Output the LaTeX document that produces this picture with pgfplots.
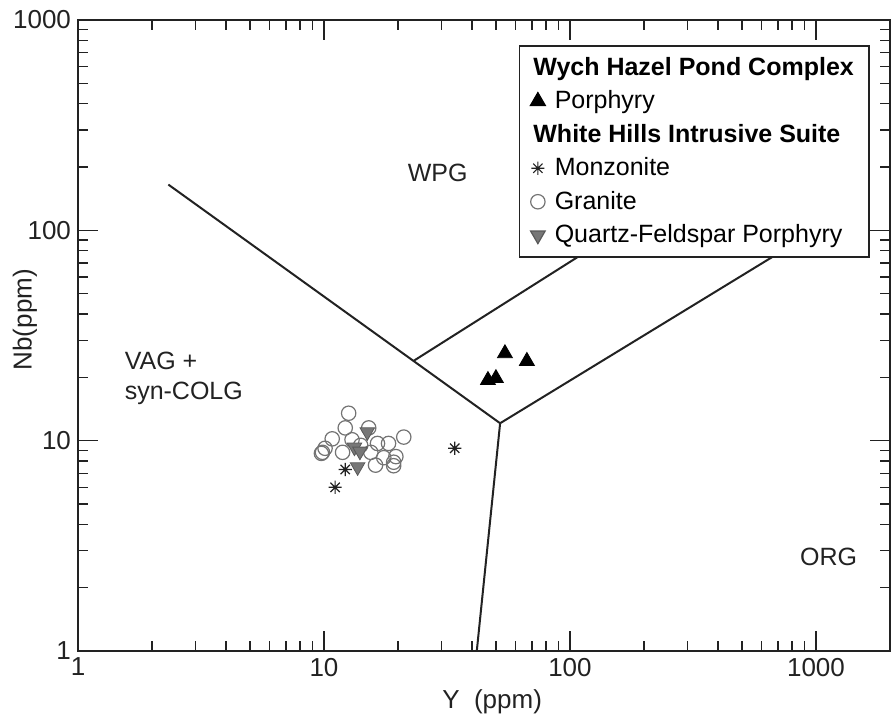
\documentclass[border=0pt]{standalone}
\usepackage{pgfplots}
\pgfplotsset{compat=1.18}
\usepackage{fontspec}
\setmainfont{Liberation Sans}

% eight-armed asterisk like the original symbol
\pgfdeclareplotmark{ast8}{%
  \pgfpathmoveto{\pgfqpoint{-\pgfplotmarksize}{0pt}}\pgfpathlineto{\pgfqpoint{\pgfplotmarksize}{0pt}}%
  \pgfpathmoveto{\pgfqpoint{0pt}{-\pgfplotmarksize}}\pgfpathlineto{\pgfqpoint{0pt}{\pgfplotmarksize}}%
  \pgfpathmoveto{\pgfqpoint{-.707\pgfplotmarksize}{-.707\pgfplotmarksize}}\pgfpathlineto{\pgfqpoint{.707\pgfplotmarksize}{.707\pgfplotmarksize}}%
  \pgfpathmoveto{\pgfqpoint{-.707\pgfplotmarksize}{.707\pgfplotmarksize}}\pgfpathlineto{\pgfqpoint{.707\pgfplotmarksize}{-.707\pgfplotmarksize}}%
  \pgfusepathqstroke}

\definecolor{ink}{HTML}{222222}
\definecolor{qfp}{HTML}{777777}

\begin{document}
\begin{tikzpicture}
  \begin{axis}[
      scale only axis,
      width=406pt, height=315.5pt,
      xmode=log, ymode=log,
      xmin=1, xmax=2000, ymin=1, ymax=1000,
      xtick={1,10,100,1000}, xticklabels={1,10,100,1000},
      ytick={1,10,100,1000}, yticklabels={1,10,100,1000},
      tick align=inside,
      major tick length=10pt, minor tick length=5pt,
      every tick/.style={ink, line width=0.7pt},
      axis line style={ink, line width=1pt},
      tick label style={font=\fontsize{13}{15}\selectfont, text=ink},
      xlabel={Y\ \ (ppm)},
      ylabel={Nb(ppm)},
      every axis x label/.style={at={([yshift=-25.5pt]axis description cs:0.51,0)}, anchor=center,
        font=\fontsize{13}{15}\selectfont, text=ink},
      every axis y label/.style={at={([xshift=-26.5pt]axis description cs:0,0.525)}, anchor=center,
        rotate=90, font=\fontsize{13}{15}\selectfont, text=ink},
      legend style={at={(0.975,0.96)}, anchor=north east, draw=ink, line width=0.9pt,
        fill=white, font=\fontsize{12.5}{15}\selectfont, row sep=2.2pt,
        inner xsep=5.5pt, inner ysep=3.5pt},
      legend cell align=left,
      legend image code/.code={\draw[#1, line width=0.6pt] plot coordinates {(0pt,0pt)}; \path (-1pt,0pt) (6pt,0pt);},
    ]
    % field boundaries
    \addplot[ink, line width=1pt, forget plot] coordinates {(2.33,165) (52,12.1)};
    \addplot[ink, line width=1pt, forget plot] coordinates {(52,12.1) (41.8,1)};
    \addplot[ink, line width=1pt, forget plot] coordinates {(52,12.1) (1000,100)};
    \addplot[ink, line width=1pt, forget plot] coordinates {(23.2,24.0) (120,81)};

    \addlegendimage{empty legend}
    \addlegendentry{\hspace{-10.7pt}\textbf{Wych Hazel Pond Complex}}
    \addplot[only marks, mark=triangle*, mark size=4.3pt, draw=black, fill=black] coordinates {
      (54.4,26.0) (66.8,23.9) (46.4,19.4) (50.0,19.8)
    };
    \addlegendentry{Porphyry}

    \addlegendimage{empty legend}
    \addlegendentry{\hspace{-10.7pt}\textbf{White Hills Intrusive Suite}}
    \addplot[only marks, mark=ast8, mark size=3.3pt, draw=ink, line width=0.6pt] coordinates {
      (34.0,9.21) (11.1,6.0) (12.2,7.3)
    };
    \addlegendentry{Monzonite}

    \addplot[only marks, mark=o, mark size=3.6pt, draw=black!55, line width=0.6pt] coordinates {
      (12.6,13.5) (12.2,11.5) (15.2,11.5) (10.8,10.2) (10.1,9.2) (9.86,8.8)
      (9.76,8.7) (11.9,8.8) (16.5,9.7) (18.3,9.7) (21.1,10.4) (15.5,8.8)
      (17.5,8.3) (19.6,8.4) (16.2,7.65) (19.2,7.6) (19.2,7.9) (14.1,9.5) (13.0,10.1)
    };
    \addlegendentry{Granite}

    \addplot[only marks, mark=triangle*, mark size=4.2pt, mark options={rotate=180},
      draw=black!65, fill=qfp] coordinates {
      (15.0,11.0) (13.3,9.3) (14.0,8.9) (13.7,7.5)
    };
    \addlegendentry{Quartz-Feldspar Porphyry}

    \node[font=\fontsize{12.5}{15}\selectfont, text=ink] at (axis cs:29,187) {WPG};
    \node[font=\fontsize{12.5}{15}\selectfont, text=ink] at (axis cs:1125,2.8) {ORG};
    \node[font=\fontsize{12.5}{15}\selectfont, text=ink, align=left, anchor=west] at (axis cs:1.45,19.8) {VAG +\\syn-COLG};
  \end{axis}
  \path ([shift={(-39pt,-33pt)}]current axis.south west) rectangle ([shift={(3pt,10pt)}]current axis.north east);
\end{tikzpicture}
\end{document}
